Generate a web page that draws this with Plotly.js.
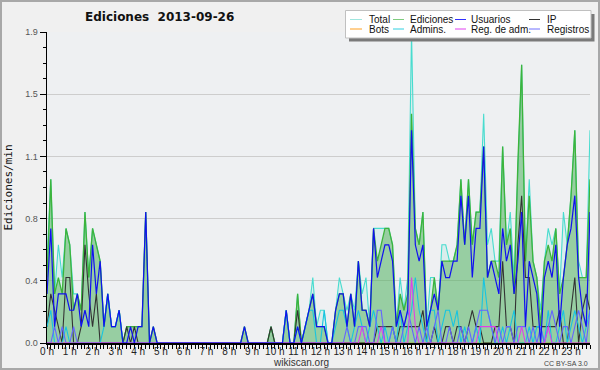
<!DOCTYPE html>
<html><head><meta charset="utf-8">
<script src="https://cdn.plot.ly/plotly-3.0.1.min.js"></script>
<style>body{margin:0;background:#f0f0f0}#c{width:600px;height:370px}</style>
</head><body><div id="c"></div><script>
const hourLabels = ["0 h","1 h","2 h","3 h","4 h","5 h","6 h","7 h","8 h","9 h","10 h","11 h","12 h","13 h","14 h","15 h","16 h","17 h","18 h","19 h","20 h","21 h","22 h","23 h"];
const yTickVals = [0, 0.38, 0.76, 1.14, 1.52, 1.9];
const yTickText = ["0.0","0.4","0.8","1.1","1.5","1.9"];
const seriesNames = ["Total","Ediciones","Usuarios","IP","Bots","Admins.","Reg. de adm.","Registros"];

// values per 10-minute slot (edits / min), 144 slots
const total = [
0.5,1.0,0.3,0.6,0.4,0.7, 0.6,0.3,0.3,0.2,0.8,0.4, 0.7,0.6,0.5,0.1,0.3,0.1, 0.1,0.2,0,0.1,0.1,0.1,
0.1,0.1,0.8,0,0.1,0, 0,0,0,0,0,0, 0,0,0,0,0,0, 0,0,0,0,0,0,
0,0,0,0,0.1,0, 0,0,0,0,0,0.1, 0,0,0,0.2,0,0, 0.3,0,0.1,0.2,0.4,0.1,
0.2,0.2,0,0,0.2,0.4, 0.3,0.2,0.3,0.2,0.5,0.3, 0.4,0.1,0.7,0.7,0.7,0.7, 0.7,0.6,0.1,0.4,0.2,0.4,
1.9,0.7,0.6,0.8,0.1,0.4, 0.4,0.2,0.6,0.6,0.5,0.5, 0.6,1.0,0.6,1.0,0.6,0.8, 0.8,1.4,0.6,0.7,0.5,0.5,
1.2,0.6,0.8,0.4,1.1,1.7, 0.5,1.0,0.5,0.4,0.2,0.5, 0.7,0.6,0.7,0.3,0.8,0.6, 0.9,1.3,0.5,0.4,0.4,1.3];
const ediciones = [
0.4,1.0,0.3,0.4,0.3,0.7, 0.6,0.2,0.3,0.2,0.8,0.4, 0.7,0.6,0.5,0.1,0.3,0.1, 0.1,0.2,0,0.1,0.1,0.1,
0.1,0.1,0.8,0,0.1,0, 0,0,0,0,0,0, 0,0,0,0,0,0, 0,0,0,0,0,0,
0,0,0,0,0.1,0, 0,0,0,0,0,0.1, 0,0,0,0.2,0,0, 0.3,0,0.1,0.2,0.3,0.1,
0.1,0.1,0,0,0.2,0.3, 0.3,0.1,0.3,0.1,0.5,0.2, 0.2,0.1,0.7,0.5,0.6,0.7, 0.7,0.6,0.1,0.3,0.2,0.3,
1.4,0.7,0.6,0.8,0.1,0.2, 0.4,0.2,0.5,0.5,0.5,0.5, 0.6,1.0,0.6,1.0,0.6,0.8, 0.8,1.2,0.4,0.5,0.5,0.4,
1.2,0.6,0.7,0.3,1.1,1.7, 0.5,0.9,0.5,0.4,0.1,0.5, 0.6,0.5,0.7,0.3,0.4,0.6, 0.9,1.3,0.4,0.4,0.4,1.0];
const usuarios = [
0.3,0.7,0.1,0.3,0.3,0.3, 0.2,0.2,0.3,0.1,0.2,0.1, 0.6,0.3,0.5,0.1,0.3,0.1, 0.1,0.2,0,0,0.1,0,
0.1,0.1,0.8,0,0.1,0, 0,0,0,0,0,0, 0,0,0,0,0,0, 0,0,0,0,0,0,
0,0,0,0,0.1,0, 0,0,0,0,0,0, 0,0,0,0.2,0,0, 0.1,0,0.1,0.2,0.3,0.1,
0.1,0.1,0,0,0.2,0.3, 0.3,0.1,0.3,0.1,0.5,0.2, 0.2,0.1,0.7,0.4,0.5,0.6, 0.6,0.5,0.1,0.2,0.1,0.2,
1.3,0.6,0.5,0.6,0.1,0.2, 0.3,0.2,0.5,0.4,0.4,0.5, 0.5,0.9,0.6,0.9,0.4,0.7, 0.7,1.2,0.4,0.5,0.4,0.3,
0.7,0.5,0.6,0.3,0.5,0.8, 0.1,0.5,0.4,0.3,0,0.4, 0.5,0.4,0.6,0.1,0.4,0.6, 0.7,0.9,0.4,0.2,0.1,0.8];
const ip = [
0.1,0.3,0.2,0.1,0,0.4, 0.4,0,0,0.1,0.6,0.3, 0.1,0.3,0,0,0,0, 0,0,0,0.1,0,0.1,
0,0,0,0,0,0, 0,0,0,0,0,0, 0,0,0,0,0,0, 0,0,0,0,0,0,
0,0,0,0,0,0, 0,0,0,0,0,0.1, 0,0,0,0,0,0, 0.2,0,0,0,0,0,
0,0,0,0,0,0, 0,0,0,0,0,0, 0,0,0,0.1,0.1,0.1, 0.1,0.1,0,0.1,0.1,0.1,
0.1,0.1,0.1,0.2,0,0, 0.1,0,0,0.1,0.1,0, 0.1,0.1,0,0.1,0.2,0.1, 0.1,0,0,0,0.1,0.1,
0.5,0.1,0.1,0,0.6,0.9, 0.4,0.4,0.1,0.1,0.1,0.1, 0.1,0.1,0.1,0.2,0,0, 0.2,0.4,0,0.2,0.3,0.2];
const bots = new Array(144).fill(0);
const admins = [
0.1,0.2,0,0,0,0.1, 0,0,0,0,0,0, 0,0,0,0.1,0.3,0.1, 0.1,0.2,0,0,0,0,
0,0,0,0,0,0, 0,0,0,0,0,0, 0,0,0,0,0,0, 0,0,0,0,0,0,
0,0,0,0,0,0, 0,0,0,0,0,0, 0,0,0,0.2,0,0, 0.1,0,0.1,0.2,0.2,0,
0,0.2,0,0,0.1,0.2, 0.2,0.1,0,0.1,0.2,0.1, 0,0.1,0.2,0.1,0,0.1, 0,0.1,0,0.2,0,0.1,
0.2,0.4,0.2,0.1,0,0.2, 0.2,0,0.1,0.2,0.2,0.1, 0.2,0,0.1,0,0,0.1, 0,0.4,0.2,0.1,0,0,
0.1,0,0.1,0.2,0,0, 0,0.1,0,0.1,0.1,0, 0.2,0,0,0.1,0.2,0, 0.1,0.2,0.1,0,0.1,0.2];
const regAdm = [
0,0,0,0,0,0, 0,0,0,0,0,0, 0,0,0,0,0,0, 0,0,0,0,0,0,
0,0,0,0,0,0, 0,0,0,0,0,0, 0,0,0,0,0,0, 0,0,0,0,0,0,
0,0,0,0,0,0, 0,0,0,0,0,0, 0,0,0,0,0,0, 0,0,0,0,0,0,
0,0,0,0,0,0, 0,0,0,0,0,0.1, 0,0,0,0,0.1,0, 0,0,0,0,0,0,
0.4,0.1,0,0,0,0, 0,0,0,0,0,0, 0,0,0,0,0,0, 0.1,0.1,0.1,0.1,0.1,0,
0,0,0,0,0,0.1, 0,0,0,0,0,0, 0.1,0,0,0,0,0, 0,0,0,0,0,0];
const registros = [
0,0,0.1,0,0.1,0, 0,0.1,0,0,0,0, 0,0,0,0,0,0, 0,0,0,0,0,0,
0,0,0,0,0,0, 0,0,0,0,0,0, 0,0,0,0,0,0, 0,0,0,0,0,0,
0,0,0,0,0,0, 0,0,0,0,0,0, 0,0,0,0,0,0, 0,0,0,0,0,0,
0,0,0,0,0,0, 0,0.1,0,0,0.1,0.1, 0.1,0,0,0.2,0.2,0, 0,0.1,0,0,0.1,0.2,
0.1,0,0.1,0,0.1,0, 0.1,0.2,0,0,0.1,0, 0,0.1,0,0.1,0,0.1, 0.2,0.2,0.2,0.1,0,0.1,
0,0.1,0.1,0,0.1,0.1, 0.1,0,0.1,0,0.1,0, 0.1,0.2,0.1,0,0.1,0.1, 0,0.1,0.2,0.1,0,0.2];

const x = total.map((_, i) => i / 6);
const colors = {Total:"#48dccf", Ediciones:"#3cb43c", Usuarios:"#1010f0", IP:"#333333", Bots:"#ffa020", "Admins.":"#18c4e0", "Reg. de adm.":"#e040e8", Registros:"#6464ff"};
const swatch = {Total:"#9fe6df", Ediciones:"#7fcc7f", Usuarios:"#3030ff", IP:"#333333", Bots:"#ffa020", "Admins.":"#30d0e0", "Reg. de adm.":"#e040f0", Registros:"#7070ff"};

function line(name, y, width, extra) {
  return Object.assign({type:"scatter", mode:"lines", name:name, x:x, y:y,
    line:{color:colors[name], width:width}, hoverinfo:"skip"}, extra || {});
}
const data = [
  line("Bots", bots, 1),
  line("Total", total, 1.1, {fill:"tozeroy", fillcolor:"rgba(120,225,205,0.16)"}),
  line("Ediciones", ediciones, 1.3, {fill:"tozeroy", fillcolor:"rgba(60,165,60,0.42)"}),
  line("IP", ip, 1.1),
  line("Admins.", admins, 1.1),
  line("Registros", registros, 1.1),
  line("Reg. de adm.", regAdm, 1.1),
  line("Usuarios", usuarios, 1.2)
];

const L = 47, R = 10, T = 32, B = 27, W = 600 - L - R, H = 370 - T - B;
const px = v => (v - L) / W;
const py = v => (370 - B - v) / H;
const SANS = "Liberation Sans, Arial, sans-serif";

const shapes = [
  {type:"rect", xref:"paper", yref:"paper", x0:px(1), x1:px(599), y0:py(369), y1:py(1), line:{color:"#a8a8a8", width:2}, fillcolor:"rgba(0,0,0,0)", layer:"below"},
  {type:"rect", xref:"paper", yref:"paper", x0:px(349), x1:px(594.5), y0:py(41.5), y1:py(14), line:{width:0}, fillcolor:"#7a7a7a", layer:"above"},
  {type:"rect", xref:"paper", yref:"paper", x0:px(345.5), x1:px(591), y0:py(38), y1:py(10.5), line:{color:"#c0c0c0", width:1}, fillcolor:"#ffffff", layer:"above"}
];
const annotations = [
  {xref:"paper", yref:"paper", x:px(301), y:py(362), text:"wikiscan.org", showarrow:false, xanchor:"center", yanchor:"middle", font:{family:SANS, size:10, color:"#333"}},
  {xref:"paper", yref:"paper", x:px(590), y:py(363), text:"CC BY-SA 3.0", showarrow:false, xanchor:"right", yanchor:"middle", font:{family:SANS, size:7, color:"#444"}}
];
const swX = [[350,362],[393,404],[455,466],[529,540]];
const txX = [367, 408, 469, 545];
const rowY = [19.5, 29];
seriesNames.forEach((nm, k) => {
  const col = k % 4, row = Math.floor(k / 4);
  shapes.push({type:"line", xref:"paper", yref:"paper", x0:px(swX[col][0]), x1:px(swX[col][1]), y0:py(rowY[row]), y1:py(rowY[row]), line:{color:swatch[nm], width:1}, layer:"above"});
  annotations.push({xref:"paper", yref:"paper", x:px(txX[col]), y:py(rowY[row]), text:nm, showarrow:false, xanchor:"left", yanchor:"middle", font:{family:SANS, size:10, color:"#111"}});
});

const layout = {
  width:600, height:370, margin:{l:L, r:R, t:T, b:B, autoexpand:false},
  paper_bgcolor:"#f0f0f0", plot_bgcolor:"#eef0f2", showlegend:false,
  title:{text:"<b>Ediciones&nbsp; 2013-09-26</b>", font:{family:"DejaVu Sans", size:12, color:"#111"}, xref:"container", yref:"container", x:85/600, xanchor:"left", y:1-16.5/370, yanchor:"middle"},
  xaxis:{range:[0, 143/6], tickmode:"array", tickvals:hourLabels.map((_, h) => h), ticktext:hourLabels, tickangle:0,
    ticks:"outside", ticklen:4, tickcolor:"#000", tickwidth:1, showline:true, linecolor:"#000", linewidth:1.5,
    ticklabelstandoff:-6,
    showgrid:false, zeroline:false, fixedrange:true, tickfont:{family:SANS, size:10, color:"#222"},
    minor:{dtick:1/6, tick0:0, ticks:"outside", ticklen:4, tickcolor:"#000", tickwidth:1, showgrid:false}},
  yaxis:{range:[0, 1.9], tickmode:"array", tickvals:yTickVals, ticktext:yTickText,
    ticks:"outside", ticklen:6, tickcolor:"#000", tickwidth:1, showline:true, linecolor:"#000", linewidth:1.5,
    showgrid:true, gridcolor:"#cdcdcd", gridwidth:1, zeroline:false, fixedrange:true,
    tickfont:{family:SANS, size:9, color:"#555"},
    minor:{dtick:0.095, tick0:0, ticks:"outside", ticklen:3, tickcolor:"#000", tickwidth:1, showgrid:false},
    title:{text:"Ediciones/min", font:{family:"DejaVu Sans Mono", size:11, color:"#111"}, standoff:10}},
  shapes:shapes, annotations:annotations
};
Plotly.newPlot("c", data, layout, {displayModeBar:false, staticPlot:true});
</script></body></html>
